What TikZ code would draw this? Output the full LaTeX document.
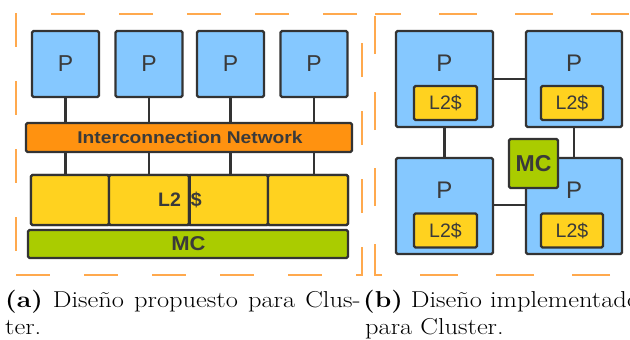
\documentclass[tikz,border=0pt]{standalone}
\usepackage{fontspec}
\newfontfamily\dsans{Liberation Sans}
\definecolor{pblue}{HTML}{85C8FF}
\definecolor{norange}{HTML}{FF9210}
\definecolor{cyellow}{HTML}{FFD21F}
\definecolor{mgreen}{HTML}{AACC00}
\definecolor{edge}{HTML}{333333}
\definecolor{dashc}{HTML}{FFA94D}
\definecolor{txt}{HTML}{3A3A3A}
\tikzset{
  blk/.style={draw=edge, line width=2.2pt, rounded corners=1.5pt, inner sep=0pt, text=txt},
  pbox/.style={blk, fill=pblue},
  netbox/.style={blk, fill=norange},
  cachebox/.style={blk, fill=cyellow},
  mcbox/.style={blk, fill=mgreen},
  wire/.style={draw=edge, line width=2.2pt},
  panel/.style={draw=dashc, line width=2pt, dash pattern=on 34pt off 34pt},
  panelb/.style={draw=dashc, line width=2pt, dash pattern=on 38pt off 38pt, dash phase=12pt},
  lbl/.style={inner sep=0pt, text=txt},
  captext/.style={inner sep=0pt, font=\fontsize{23}{28}\selectfont}
}
\newcommand{\wide}[2]{\scalebox{#1}[1]{#2}}
\begin{document}
\begin{tikzpicture}[x=1pt,y=-1pt]
\clip (0,0) rectangle (630,340);
\useasboundingbox (0,0) rectangle (630,340);
% panels
\draw[panel] (16,275) -- (362,275) -- (362,14) -- (16,14) -- cycle;
\draw[panelb] (375,14) -- (660,14) -- (660,275) -- (375,275) -- cycle;
% ---- left panel
\foreach \i/\x in {1/65.5,2/149,3/230.5,4/314}{
  \node[pbox, minimum width=67pt, minimum height=66pt] (p\i) at (\x,64) {\dsans\fontsize{23}{23}\selectfont P};
}
\node[netbox, minimum width=326pt, minimum height=29pt] (net) at (189,137.5) {};
\node[lbl, font=\dsans\bfseries\fontsize{17}{17}\selectfont] (netl) at (190,137.5) {\wide{1.13}{Interconnection Network}};
\node[cachebox, minimum width=317pt, minimum height=50pt] (l2) at (189.5,200) {};
\node[cachebox, minimum width=78pt, minimum height=50pt] (c1) at (70,200) {};
\node[cachebox, minimum width=80pt, minimum height=50pt] (c2) at (149,200) {};
\node[cachebox, minimum width=79pt, minimum height=50pt] (c3) at (228.5,200) {};
\node[cachebox, minimum width=80pt, minimum height=50pt] (c4) at (308,200) {};
\node[lbl, font=\dsans\bfseries\fontsize{19.5}{19.5}\selectfont] (l2l) at (180,200) {L2\hspace{10pt}\$};
\draw[edge, line width=2.2pt] (c2.north east) -- (c2.south east);
\node[mcbox, minimum width=320pt, minimum height=28pt] (mc) at (188,244) {};
\node[lbl, font=\dsans\bfseries\fontsize{20}{20}\selectfont] (mcl) at (188.5,244) {\wide{1.1}{MC}};
\foreach \i in {1,2,3,4}{
  \draw[wire] (p\i.south) -- (p\i.south |- net.north);
  \draw[wire] (p\i.south |- net.south) -- (p\i.south |- l2.north);
}
% ---- right panel
\node[pbox, minimum width=97pt, minimum height=96pt] (tl) at (444.5,79) {};
\node[pbox, minimum width=96pt, minimum height=96pt] (tr) at (574,79) {};
\node[pbox, minimum width=97pt, minimum height=96pt] (bl) at (444.5,206) {};
\node[pbox, minimum width=96pt, minimum height=96pt] (br) at (574,206) {};
\draw[wire] (tl.east) -- (tr.west);
\draw[wire] (tl.south) -- (bl.north);
\draw[wire] (tr.south) -- (br.north);
\draw[wire] (bl.east |- 0,205) -- (br.west |- 0,205);
\foreach \n/\x/\y in {tl/444.5/63,tr/574/63,bl/444.5/190,br/574/190}{
  \node[lbl, font=\dsans\fontsize{24}{24}\selectfont] (\n p) at (\x,\y) {P};
}
\node[cachebox, minimum width=63pt, minimum height=34pt, font=\dsans\fontsize{19.5}{19.5}\selectfont] (tlc) at (445.5,103) {L2\$};
\node[cachebox, minimum width=62pt, minimum height=34pt, font=\dsans\fontsize{19.5}{19.5}\selectfont] (trc) at (572,103) {L2\$};
\node[cachebox, minimum width=63pt, minimum height=34pt, font=\dsans\fontsize{19.5}{19.5}\selectfont] (blc) at (445.5,230.5) {L2\$};
\node[cachebox, minimum width=62pt, minimum height=34pt, font=\dsans\fontsize{19.5}{19.5}\selectfont] (brc) at (572,230.5) {L2\$};
\node[mcbox, minimum width=49pt, minimum height=49pt, font=\dsans\bfseries\fontsize{23}{23}\selectfont] (rmc) at (533.5,163.5) {MC};
% ---- captions
\node[captext, anchor=base west] (capa1) at (5,307) {\wide{1.15}{\hbox to 309pt{\textbf{(a)} Diseño propuesto para Clus-}}};
\node[captext, anchor=base west] (capa2) at (5,334) {\wide{1.15}{ter.}};
\node[captext, anchor=base west] (capb1) at (363,307) {\wide{1.15}{\textbf{(b)} Diseño implementado}};
\node[captext, anchor=base west] (capb2) at (365,334) {\wide{1.15}{para Cluster.}};
\end{tikzpicture}
\end{document}
